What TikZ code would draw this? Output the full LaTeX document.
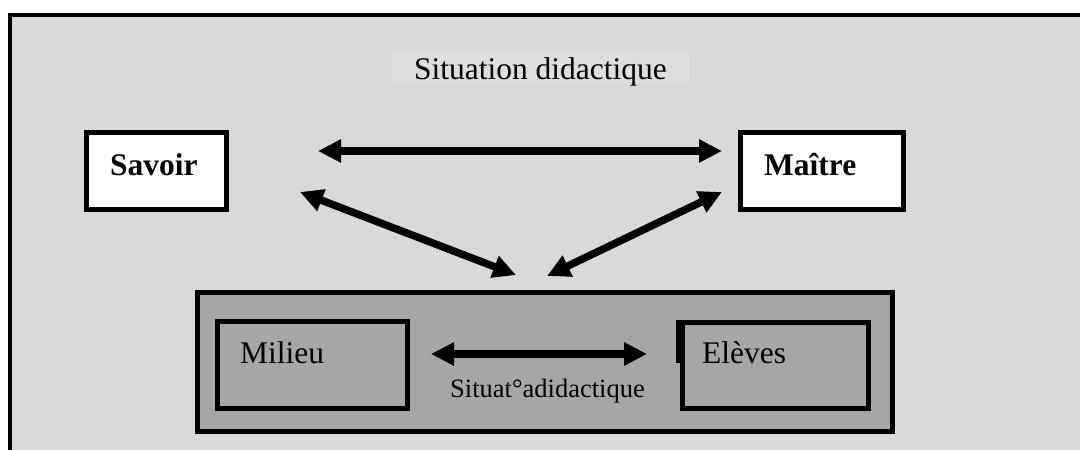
\documentclass[tikz,border=0pt]{standalone}
\usepackage{fontspec}
\setmainfont{Liberation Serif}
\usetikzlibrary{arrows.meta}
\definecolor{fondclair}{RGB}{217,217,217}
\definecolor{fondtitre}{RGB}{222,222,222}
\definecolor{fondsombre}{RGB}{166,166,166}

\begin{document}
\begin{tikzpicture}[x=1pt, y=-1pt,
    boite/.style={draw=black, line width=5pt, inner sep=0pt},
    texte/.style={anchor=base west, inner sep=0pt, font=\fontsize{31.5}{36}\selectfont},
    fleche/.style={line width=7.5pt, {Triangle[length=23pt, width=22pt]}-{Triangle[length=23pt, width=22pt]}},
]
    \useasboundingbox (0, 0) rectangle (1080, 450);
    \clip (0, 0) rectangle (1080, 450);
    \fill [white] (0, 0) rectangle (1080, 450);

    % Cadre et titre
    \draw [line width=4pt, fill=fondclair] (10, 15) rectangle (1100, 470);
    \fill [fondtitre] (392, 50) rectangle (690, 82);
    \node (titre) at (540.5, 79) [texte, anchor=base]{Situation didactique};

    % Savoir
    \node at (156.5, 171) [boite, fill=white, minimum width=140pt, minimum height=77pt](savoir){};
    \node (savoir_texte) at (110, 175) [texte, font=\fontsize{31.5}{36}\selectfont\bfseries]{Savoir};

    % Maitre
    \node at (822, 171) [boite, fill=white, minimum width=163pt, minimum height=77pt](maitre){};
    \node (maitre_texte) at (764, 175) [texte, font=\fontsize{31.5}{36}\selectfont\bfseries]{Maître};

    % Situation adidactique
    \node at (545, 362) [boite, fill=fondsombre, minimum width=695pt, minimum height=139pt](adidactique){};
    \node at (312.5, 365) [boite, minimum width=190pt, minimum height=87pt](milieu){};
    \node (milieu_texte) at (240, 363) [texte]{Milieu};
    \node at (775.5, 365.5) [boite, minimum width=186pt, minimum height=86pt](eleves){};
    \draw [line width=5pt] (678.5, 320) -- (678.5, 363);
    \node (eleves_texte) at (702, 363) [texte]{Elèves};
    \node (adidactique_texte) at (547.5, 397) [texte, anchor=base, font=\fontsize{26.5}{30}\selectfont]{Situat°adidactique};

    % Fleches
    \coordinate (savoir_h) at (318, 151);
    \coordinate (maitre_h) at (722, 151);
    \coordinate (savoir_b) at (300, 192);
    \coordinate (maitre_b) at (722, 192);
    \coordinate (adidactique_g) at (516, 275);
    \coordinate (adidactique_d) at (547, 276);
    \coordinate (milieu_d) at (431, 354);
    \coordinate (eleves_g) at (647, 354);
    \draw [fleche] (savoir_h) -- (maitre_h);
    \draw [fleche] (savoir_b) -- (adidactique_g);
    \draw [fleche] (maitre_b) -- (adidactique_d);
    \draw [fleche] (milieu_d) -- (eleves_g);

\end{tikzpicture}
\end{document}
